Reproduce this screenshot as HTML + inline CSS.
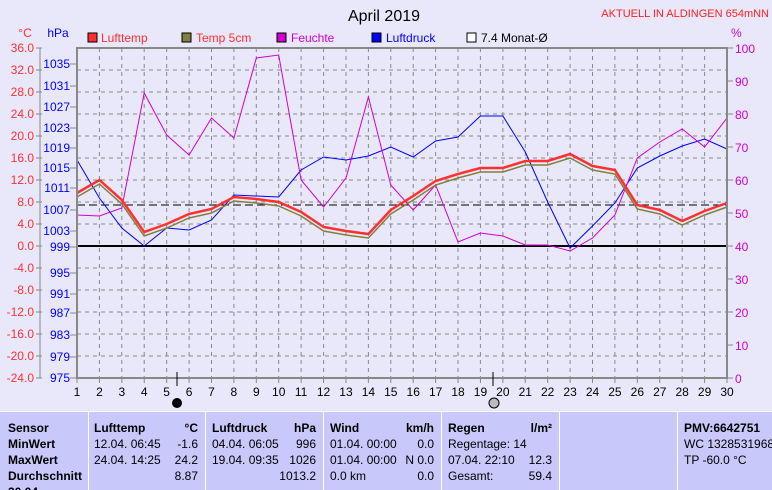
<!DOCTYPE html>
<html><head><meta charset="utf-8"><style>
body{margin:0;background:#e8e8fa;width:772px;height:490px;overflow:hidden;font-family:"Liberation Sans",sans-serif}
svg{position:absolute;left:0;top:0}
</style></head><body>
<svg id="s" width="772" height="490" xmlns="http://www.w3.org/2000/svg" font-family="Liberation Sans, sans-serif">
<rect width="772" height="490" fill="#e8e8fa"/>
<text x="384" y="21" font-size="16" text-anchor="middle" fill="#000">April 2019</text>
<text x="769" y="17" font-size="11" text-anchor="end" fill="#ff2020">AKTUELL IN ALDINGEN 654mNN</text>
<text x="25" y="37" font-size="12" text-anchor="middle" fill="#ff3030">°C</text>
<text x="58" y="37" font-size="12" text-anchor="middle" fill="#0000ff">hPa</text>
<text x="731" y="37" font-size="12" fill="#d000d0">%</text>
<g font-size="12">
<rect x="88" y="33" width="9" height="9" fill="#ff3030" stroke="#000"/><text x="101" y="42" fill="#ff3030">Lufttemp</text>
<rect x="182" y="33" width="9" height="9" fill="#808040" stroke="#000"/><text x="196" y="42" fill="#ff3030">Temp 5cm</text>
<rect x="277" y="33" width="9" height="9" fill="#d000d0" stroke="#000"/><text x="291" y="42" fill="#d000d0">Feuchte</text>
<rect x="372" y="33" width="9" height="9" fill="#0000ff" stroke="#000"/><text x="386" y="42" fill="#0000ff">Luftdruck</text>
<rect x="467" y="33" width="9" height="9" fill="#fff" stroke="#000"/><text x="481" y="42" fill="#000">7.4 Monat-Ø</text>
</g>
<g id="g"></g>
<rect x="0" y="411" width="772" height="79" fill="#c8c8fa"/>
<line x1="0" y1="411.5" x2="772" y2="411.5" stroke="#fff"/>
<g stroke="#fff"><line x1="88.5" y1="412" x2="88.5" y2="490"/><line x1="205.5" y1="412" x2="205.5" y2="490"/><line x1="323.5" y1="412" x2="323.5" y2="490"/><line x1="441.5" y1="412" x2="441.5" y2="490"/><line x1="559.5" y1="412" x2="559.5" y2="490"/><line x1="677.5" y1="412" x2="677.5" y2="490"/></g>
<g font-size="12" fill="#000">
<g font-weight="bold"><text x="8" y="432">Sensor</text><text x="8" y="448">MinWert</text><text x="8" y="464">MaxWert</text><text x="8" y="480">Durchschnitt</text><text x="8" y="496">30.04.</text>
<text x="94" y="432">Lufttemp</text><text x="198" y="432" text-anchor="end">°C</text>
<text x="212" y="432">Luftdruck</text><text x="316" y="432" text-anchor="end">hPa</text>
<text x="330" y="432">Wind</text><text x="434" y="432" text-anchor="end">km/h</text>
<text x="448" y="432">Regen</text><text x="552" y="432" text-anchor="end">l/m²</text>
<text x="684" y="432">PMV:6642751</text></g>
<text x="94" y="448">12.04.  06:45</text><text x="198" y="448" text-anchor="end">-1.6</text>
<text x="94" y="464">24.04.  14:25</text><text x="198" y="464" text-anchor="end">24.2</text>
<text x="198" y="480" text-anchor="end">8.87</text>
<text x="212" y="448">04.04.  06:05</text><text x="316" y="448" text-anchor="end">996</text>
<text x="212" y="464">19.04.  09:35</text><text x="316" y="464" text-anchor="end">1026</text>
<text x="316" y="480" text-anchor="end">1013.2</text>
<text x="330" y="448">01.04.  00:00</text><text x="434" y="448" text-anchor="end">0.0</text>
<text x="330" y="464">01.04.  00:00</text><text x="434" y="464" text-anchor="end">N 0.0</text>
<text x="330" y="480">0.0 km</text><text x="434" y="480" text-anchor="end">0.0</text>
<text x="448" y="448">Regentage: 14</text>
<text x="448" y="464">07.04.  22:10</text><text x="552" y="464" text-anchor="end">12.3</text>
<text x="448" y="480">Gesamt:</text><text x="552" y="480" text-anchor="end">59.4</text>
<text x="684" y="448">WC 1328531968</text><text x="684" y="464">TP -60.0 °C</text>
</g>
</svg>
<script>
var g=document.getElementById('g'),h='';
var X0=77,DX=650/29,Y0=48;
function X(d){return X0+(d-1)*DX}
for(var i=1;i<15;i++){var y=Y0+i*22;h+='<line x1="77" y1="'+y+'" x2="727" y2="'+y+'" stroke="#888" stroke-dasharray="4,4"/>';}
for(var d=2;d<30;d++){var x=X(d).toFixed(1);h+='<line x1="'+x+'" y1="48" x2="'+x+'" y2="378" stroke="#888" stroke-dasharray="4,4"/>';}
for(var i=0;i<=15;i++){var y=Y0+i*22,t=36-4*i;
h+='<text x="34" y="'+(y+4)+'" font-size="12" fill="#ff3030" text-anchor="end">'+t.toFixed(1)+'</text>';
h+='<line x1="36" y1="'+y+'" x2="42" y2="'+y+'" stroke="#888"/>';}
var PY=[64,86,107,128,148,168,188,210,231,247,273,294,313,335,357,378];
for(var i=0;i<16;i++){var p=1035-4*i,y=PY[i];
h+='<text x="70" y="'+(y+4)+'" font-size="12" fill="#0000ff" text-anchor="end">'+p+'</text>';
h+='<line x1="70" y1="'+y+'" x2="77" y2="'+y+'" stroke="#888"/>';}
h+='<line x1="40" y1="48" x2="40" y2="378" stroke="#888"/>';
for(var i=0;i<=10;i++){var y=48+i*33;h+='<line x1="727" y1="'+y+'" x2="733" y2="'+y+'" stroke="#888"/><text x="735" y="'+(y+5)+'" font-size="12" fill="#d000d0">'+(100-10*i)+'</text>';}
for(var d=1;d<=30;d++){var x=X(d);h+='<line x1="'+x+'" y1="378" x2="'+x+'" y2="383" stroke="#888"/><text x="'+x+'" y="396" font-size="12" text-anchor="middle">'+d+'</text>';}
h+='<line x1="77" y1="246" x2="727" y2="246" stroke="#000" stroke-width="2"/>';
h+='<line x1="77" y1="205" x2="727" y2="205" stroke="#000" stroke-dasharray="8,4"/>';
function pl(a,c,w,o){var p=a.map(function(v,i){return X(i+1).toFixed(1)+','+(v+(o||0))}).join(' ');h+='<polyline points="'+p+'" fill="none" stroke="'+c+'" stroke-width="'+w+'"/>';}
var lt=[193,180,200,232,224,214,209,197,199,202,212,227,231,234,210,196,181,174,168,168,161,161,154,166,170,205,210,221,211,203];
var fe=[215,216,208,93,135,155,118,138,58,55,180,207,178,97,185,210,185,242,233,236,245,245,251,238,215,158,142,129,147,118];
var lp=[160,198,228,246,228,230,220,195,196,197,170,157,160,156,147,157,141,137,116,116,152,202,248,226,203,168,156,146,139,149];
pl(lp,'#0000ff',1);pl(fe,'#d000d0',1);pl(lt,'#808040',1.5,4);pl(lt,'#ff3030',2.5);
h+='<rect x="77" y="48" width="650" height="330" fill="none" stroke="#888" stroke-width="2"/>';
h+='<line x1="177" y1="372" x2="177" y2="386" stroke="#000"/><line x1="493" y1="372" x2="493" y2="386" stroke="#000"/>';
h+='<circle cx="177" cy="403" r="5" fill="#000"/><circle cx="494" cy="403" r="5" fill="#bbb" stroke="#000"/>';
g.innerHTML=h;
</script>
</body></html>
